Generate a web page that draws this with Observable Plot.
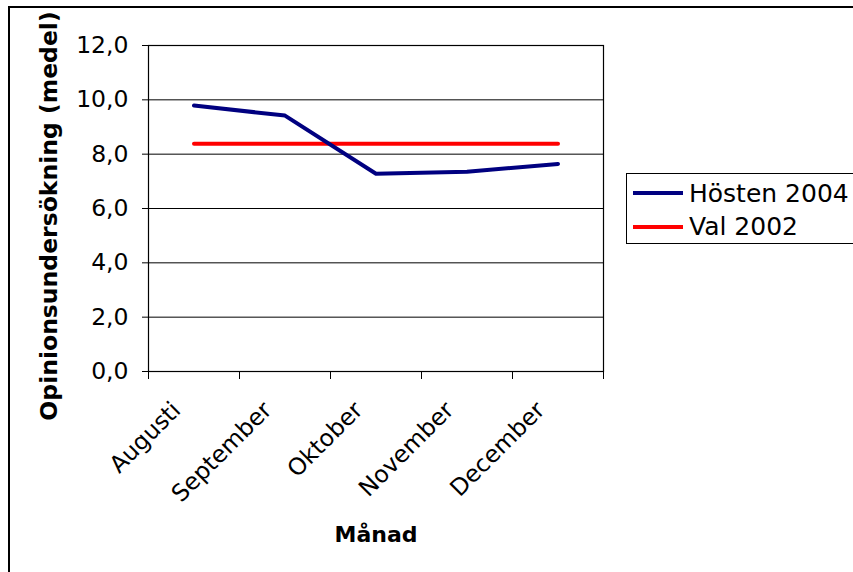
<!DOCTYPE html>
<html><head><meta charset="utf-8">
<script src="https://cdn.jsdelivr.net/npm/d3@7"></script>
<script src="https://cdn.jsdelivr.net/npm/@observablehq/plot@0.6"></script>
<style>
html,body{margin:0;padding:0;background:#fff;}
#wrap{position:relative;width:853px;height:572px;overflow:hidden;background:#fff;}
#frame{position:absolute;left:8px;top:6px;width:900px;height:620px;border:2px solid #000;overflow:hidden;}
#chart{position:absolute;left:-10px;top:-8px;width:853px;height:572px;}
#chart svg{position:absolute;left:0;top:0;}
</style></head><body>
<div id="wrap"><div id="frame"><div id="chart"></div></div></div>
<script>
const months = ["Augusti", "September", "Oktober", "November", "December"];
const hosten2004 = [9.79, 9.42, 7.28, 7.35, 7.64];
const val2002 = [8.38, 8.38, 8.38, 8.38, 8.38];
const yTicks = [0, 2, 4, 6, 8, 10, 12];
const xBoundaries = [0, 1, 2, 3, 4, 5];
const seriesNames = ["Hösten 2004", "Val 2002"];
const seriesColors = ["#000080", "#ff0000"];
const yTitle = "Opinionsundersökning (medel)";
const xTitle = "Månad";

const rows1 = months.map((m, i) => ({i, month: m, value: hosten2004[i]}));
const rows2 = months.map((m, i) => ({i, month: m, value: val2002[i]}));
const fmt = d => d.toFixed(1).replace(".", ",");

const chart = Plot.plot({
  width: 853, height: 572,
  marginLeft: 148, marginRight: 250, marginTop: 45, marginBottom: 201,
  style: {fontFamily: "DejaVu Sans", fontSize: "23px", background: "transparent", color: "#000", overflow: "visible"},
  x: {domain: [0, 5]},
  y: {domain: [0, 12]},
  marks: [
    Plot.gridY(yTicks, {stroke: "#000", strokeOpacity: 1, strokeWidth: 1}),
    Plot.frame({stroke: "#000", strokeWidth: 1.2}),
    Plot.axisY(yTicks, {tickSize: 6, tickPadding: 14, tickFormat: fmt, fontSize: 23.5, label: null, stroke: "#000"}),
    Plot.axisX(xBoundaries, {tickSize: 8, tickFormat: () => "", label: null, stroke: "#000"}),
    Plot.text(rows1, {x: d => d.i + 0.5, frameAnchor: "bottom", text: "month", rotate: -45, textAnchor: "end", dx: -12, dy: 40, fontSize: 23.5, fill: "#000"}),
    Plot.line(rows2, {x: d => d.i + 0.5, y: "value", stroke: seriesColors[1], strokeWidth: 4}),
    Plot.line(rows1, {x: d => d.i + 0.5, y: "value", stroke: seriesColors[0], strokeWidth: 4})
  ]
});
document.getElementById("chart").appendChild(chart);

// titles and legend overlay
const ns = "http://www.w3.org/2000/svg";
const ov = document.createElementNS(ns, "svg");
ov.setAttribute("width", 853); ov.setAttribute("height", 572);
ov.style.fontFamily = "DejaVu Sans";
ov.innerHTML = `
<text transform="translate(57,216) rotate(-90)" text-anchor="middle" font-weight="bold" font-size="23.5">${yTitle}</text>
<text x="376" y="542" text-anchor="middle" font-weight="bold" font-size="22">${xTitle}</text>
<rect x="626.5" y="173.5" width="300" height="70" fill="#fff" stroke="#000" stroke-width="1"/>
<line x1="633" x2="683" y1="193" y2="193" stroke="${seriesColors[0]}" stroke-width="4"/>
<text x="689" y="202" font-size="25">${seriesNames[0]}</text>
<line x1="633" x2="683" y1="227" y2="227" stroke="${seriesColors[1]}" stroke-width="4"/>
<text x="689" y="235" font-size="25">${seriesNames[1]}</text>`;
document.getElementById("chart").appendChild(ov);
</script>
</body></html>
